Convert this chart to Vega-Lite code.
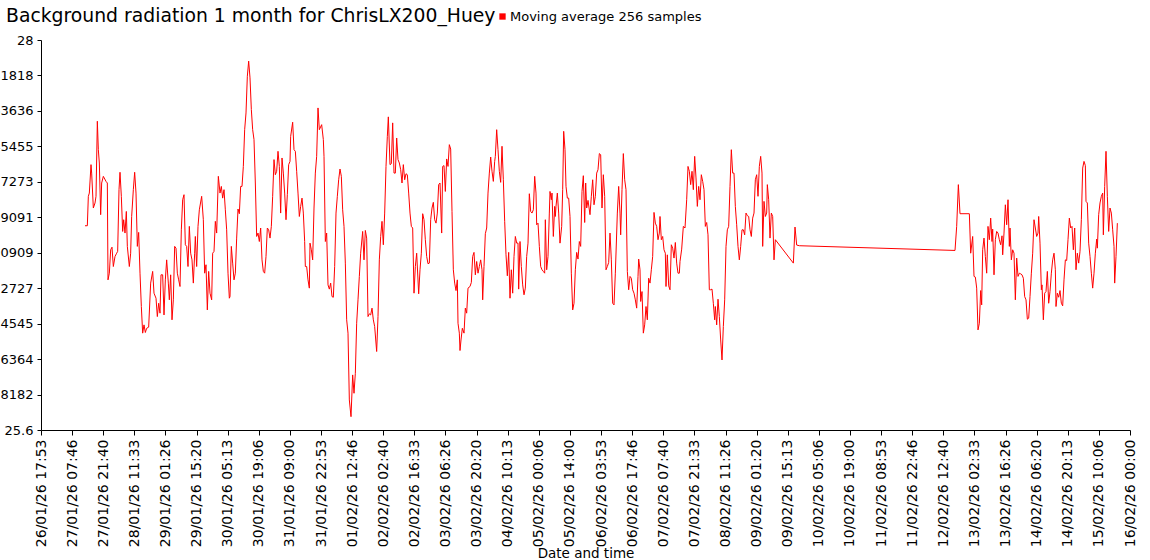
{
"$schema": "https://vega.github.io/schema/vega-lite/v6.json",
"width": 1089, "height": 390,
"autosize": {"type": "none"},
"padding": {"left": 41, "top": 40, "right": 20, "bottom": 130},
"background": "white",
"config": {"view": {"stroke": null}, "font": "DejaVu Sans"},
"title": {"text": "Background radiation 1 month for ChrisLX200_Huey", "anchor": "start", "frame": "group", "font": "DejaVu Sans", "fontSize": 18.8, "fontWeight": "normal", "color": "black", "dx": -35, "offset": -31, "baseline": "alphabetic"},
"data": {"values": [
{"t":1769520708000,"v":26.857},{"t":1769524458000,"v":26.857},{"t":1769526065000,"v":27.038},{"t":1769527672000,"v":27.058},{"t":1769530350000,"v":27.233},{"t":1769531421000,"v":27.181},{"t":1769534100000,"v":26.966},{"t":1769536778000,"v":26.997},{"t":1769538385000,"v":27.038},{"t":1769540528000,"v":27.500},{"t":1769542135000,"v":27.325},{"t":1769543742000,"v":27.243},{"t":1769545885000,"v":26.925},{"t":1769547492000,"v":27.120},{"t":1769550170000,"v":27.161},{"t":1769554455000,"v":27.130},{"t":1769556598000,"v":27.120},{"t":1769557669000,"v":26.524},{"t":1769559812000,"v":26.565},{"t":1769561955000,"v":26.709},{"t":1769564097000,"v":26.725},{"t":1769566240000,"v":26.606},{"t":1769568918000,"v":26.668},{"t":1769571597000,"v":26.688},{"t":1769573204000,"v":26.699},{"t":1769575346000,"v":27.079},{"t":1769576953000,"v":27.186},{"t":1769579096000,"v":27.038},{"t":1769581239000,"v":26.822},{"t":1769582846000,"v":26.894},{"t":1769584988000,"v":26.812},{"t":1769587131000,"v":26.945},{"t":1769588738000,"v":26.730},{"t":1769591952000,"v":26.606},{"t":1769594095000,"v":26.688},{"t":1769595702000,"v":26.914},{"t":1769598380000,"v":27.079},{"t":1769600523000,"v":27.186},{"t":1769602666000,"v":27.058},{"t":1769604808000,"v":26.730},{"t":1769606951000,"v":26.816},{"t":1769609094000,"v":26.565},{"t":1769611236000,"v":26.360},{"t":1769613379000,"v":26.196},{"t":1769615522000,"v":26.247},{"t":1769617664000,"v":26.200},{"t":1769619807000,"v":26.226},{"t":1769623021000,"v":26.233},{"t":1769626235000,"v":26.504},{"t":1769629449000,"v":26.576},{"t":1769631592000,"v":26.442},{"t":1769634806000,"v":26.411},{"t":1769636948000,"v":26.298},{"t":1769639091000,"v":26.380},{"t":1769641234000,"v":26.319},{"t":1769642841000,"v":26.555},{"t":1769645519000,"v":26.555},{"t":1769647662000,"v":26.308},{"t":1769649805000,"v":26.524},{"t":1769651947000,"v":26.647},{"t":1769654626000,"v":26.504},{"t":1769656233000,"v":26.401},{"t":1769658375000,"v":26.555},{"t":1769660518000,"v":26.278},{"t":1769662661000,"v":26.401},{"t":1769664803000,"v":26.730},{"t":1769666946000,"v":26.719},{"t":1769669089000,"v":26.565},{"t":1769671231000,"v":26.524},{"t":1769673374000,"v":26.483},{"t":1769675517000,"v":26.832},{"t":1769677659000,"v":27.017},{"t":1769679802000,"v":27.048},{"t":1769681945000,"v":26.740},{"t":1769684087000,"v":26.730},{"t":1769686230000,"v":26.606},{"t":1769688373000,"v":26.853},{"t":1769690515000,"v":26.688},{"t":1769692658000,"v":26.647},{"t":1769694801000,"v":26.504},{"t":1769696943000,"v":26.688},{"t":1769698015000,"v":26.791},{"t":1769700158000,"v":26.606},{"t":1769702300000,"v":26.853},{"t":1769704443000,"v":26.955},
{"t":1769708191000,"v":27.038},{"t":1769710870000,"v":26.894},{"t":1769713012000,"v":26.565},{"t":1769715155000,"v":26.617},{"t":1769717298000,"v":26.339},{"t":1769719440000,"v":26.576},{"t":1769721583000,"v":26.442},{"t":1769724261000,"v":26.401},{"t":1769725868000,"v":26.688},{"t":1769728011000,"v":26.699},{"t":1769730154000,"v":26.884},{"t":1769732296000,"v":26.812},{"t":1769734975000,"v":27.161},{"t":1769737653000,"v":27.058},{"t":1769739796000,"v":27.099},{"t":1769741939000,"v":27.027},{"t":1769744081000,"v":27.079},{"t":1769746224000,"v":26.955},{"t":1769748367000,"v":26.832},{"t":1769750509000,"v":26.565},{"t":1769752652000,"v":26.411},{"t":1769753723000,"v":26.421},{"t":1769755866000,"v":26.730},{"t":1769758009000,"v":26.627},{"t":1769760151000,"v":26.524},{"t":1769762294000,"v":26.565},{"t":1769764437000,"v":26.781},{"t":1769766579000,"v":26.960},{"t":1769768722000,"v":26.931},{"t":1769770865000,"v":27.099},{"t":1769773007000,"v":27.099},{"t":1769775150000,"v":27.222},{"t":1769777293000,"v":27.448},{"t":1769779435000,"v":27.551},{"t":1769781578000,"v":27.777},{"t":1769783721000,"v":27.870},{"t":1769785863000,"v":27.767},{"t":1769788006000,"v":27.572},{"t":1769790149000,"v":27.448},{"t":1769792291000,"v":27.387},{"t":1769794434000,"v":27.120},{"t":1769796577000,"v":26.791},{"t":1769798719000,"v":26.812},{"t":1769800862000,"v":26.760},{"t":1769803005000,"v":26.843},{"t":1769805147000,"v":26.647},{"t":1769807290000,"v":26.576},{"t":1769809433000,"v":26.565},{"t":1769811575000,"v":26.668},{"t":1769813718000,"v":26.843},{"t":1769815861000,"v":26.832},{"t":1769818003000,"v":26.781},{"t":1769820146000,"v":26.853},{"t":1769822289000,"v":27.038},{"t":1769824432000,"v":27.264},{"t":1769826574000,"v":27.171},{"t":1769828717000,"v":27.192},{"t":1769830860000,"v":27.315},{"t":1769833002000,"v":27.222},{"t":1769835145000,"v":26.935},{"t":1769837288000,"v":27.274},{"t":1769839430000,"v":27.181},{"t":1769841573000,"v":27.058},{"t":1769843716000,"v":26.894},{"t":1769845858000,"v":27.048},{"t":1769848001000,"v":27.233},{"t":1769850144000,"v":27.253},{"t":1769851215000,"v":27.407},{"t":1769854429000,"v":27.494},{"t":1769856572000,"v":27.325},{"t":1769858715000,"v":27.315},{"t":1769860857000,"v":27.192},{"t":1769863000000,"v":27.058},{"t":1769865143000,"v":26.914},{"t":1769867285000,"v":26.976},{"t":1769869428000,"v":27.027},{"t":1769871571000,"v":26.935},{"t":1769873713000,"v":26.760},{"t":1769874785000,"v":26.606},{"t":1769876927000,"v":26.606},{"t":1769879070000,"v":26.524},{"t":1769881213000,"v":26.473},{"t":1769882284000,"v":26.750},{"t":1769884427000,"v":26.709},{"t":1769886569000,"v":26.647},{"t":1769888712000,"v":26.966},{"t":1769890855000,"v":27.181},{"t":1769892998000,"v":27.284},{"t":1769895140000,"v":27.582},{"t":1769897283000,"v":27.448},
{"t":1769901031000,"v":27.479},{"t":1769903710000,"v":27.387},{"t":1769904781000,"v":27.284},{"t":1769906924000,"v":26.760},{"t":1769909066000,"v":26.812},{"t":1769911209000,"v":26.493},{"t":1769913352000,"v":26.467},{"t":1769915494000,"v":26.504},{"t":1769917637000,"v":26.421},{"t":1769919780000,"v":26.417},{"t":1769921922000,"v":26.606},{"t":1769924065000,"v":26.935},{"t":1769926208000,"v":27.038},{"t":1769928351000,"v":27.140},{"t":1769930493000,"v":27.206},{"t":1769932636000,"v":27.161},{"t":1769934779000,"v":26.955},{"t":1769936921000,"v":26.853},{"t":1769939064000,"v":26.627},{"t":1769941207000,"v":26.278},{"t":1769943349000,"v":26.196},{"t":1769945492000,"v":25.785},{"t":1769948170000,"v":25.682},{"t":1769950849000,"v":25.939},{"t":1769952991000,"v":25.826},{"t":1769955134000,"v":25.949},{"t":1769957277000,"v":26.257},{"t":1769959419000,"v":26.401},{"t":1769961562000,"v":26.545},{"t":1769963705000,"v":26.688},{"t":1769966919000,"v":26.822},{"t":1769969061000,"v":26.647},{"t":1769971204000,"v":26.828},{"t":1769973347000,"v":26.781},{"t":1769975489000,"v":26.298},{"t":1769977632000,"v":26.315},{"t":1769979775000,"v":26.308},{"t":1769981918000,"v":26.350},{"t":1769984060000,"v":26.278},{"t":1769986203000,"v":26.237},{"t":1769989417000,"v":26.083},{"t":1769991559000,"v":26.298},{"t":1769993702000,"v":26.647},{"t":1769995845000,"v":26.791},{"t":1769997987000,"v":26.884},{"t":1770000130000,"v":26.740},{"t":1770002273000,"v":26.935},{"t":1770004415000,"v":27.222},{"t":1770006558000,"v":27.407},{"t":1770008165000,"v":27.527},{"t":1770010843000,"v":27.233},{"t":1770012986000,"v":27.239},{"t":1770015129000,"v":27.490},{"t":1770017272000,"v":27.181},{"t":1770019414000,"v":27.181},{"t":1770021557000,"v":27.397},{"t":1770023700000,"v":27.264},{"t":1770025842000,"v":27.243},{"t":1770027985000,"v":27.202},{"t":1770030128000,"v":27.120},{"t":1770032270000,"v":27.233},{"t":1770034413000,"v":27.140},{"t":1770036556000,"v":27.177},{"t":1770038698000,"v":27.171},{"t":1770040841000,"v":27.058},{"t":1770042984000,"v":26.935},{"t":1770045126000,"v":26.853},{"t":1770047269000,"v":26.843},{"t":1770049412000,"v":26.442},{"t":1770051555000,"v":26.606},{"t":1770053697000,"v":26.688},{"t":1770056911000,"v":26.438},{"t":1770059054000,"v":26.586},{"t":1770061197000,"v":26.688},{"t":1770063339000,"v":26.931},{"t":1770065482000,"v":26.894},{"t":1770067625000,"v":26.771},{"t":1770069767000,"v":26.668},{"t":1770071910000,"v":26.623},{"t":1770074053000,"v":26.627},{"t":1770076195000,"v":26.894},{"t":1770078338000,"v":26.966},{"t":1770080481000,"v":27.001},{"t":1770082623000,"v":26.894},{"t":1770084766000,"v":26.873},{"t":1770086909000,"v":26.935},{"t":1770089052000,"v":27.110},{"t":1770091194000,"v":27.120},
{"t":1770093871000,"v":26.812},{"t":1770095478000,"v":27.222},{"t":1770097621000,"v":27.227},{"t":1770099764000,"v":27.068},{"t":1770101906000,"v":27.268},{"t":1770104049000,"v":27.222},{"t":1770106192000,"v":27.356},{"t":1770108334000,"v":27.329},{"t":1770110477000,"v":26.945},{"t":1770112620000,"v":26.586},{"t":1770114762000,"v":26.504},{"t":1770116905000,"v":26.458},{"t":1770119048000,"v":26.524},{"t":1770120119000,"v":26.257},{"t":1770122262000,"v":26.196},{"t":1770123333000,"v":26.089},{"t":1770124940000,"v":26.154},{"t":1770127083000,"v":26.226},{"t":1770129761000,"v":26.196},{"t":1770131904000,"v":26.350},{"t":1770134047000,"v":26.319},{"t":1770136189000,"v":26.473},{"t":1770139403000,"v":26.483},{"t":1770141546000,"v":26.508},{"t":1770143689000,"v":26.668},{"t":1770145831000,"v":26.693},{"t":1770147974000,"v":26.555},{"t":1770150117000,"v":26.637},{"t":1770152259000,"v":26.565},{"t":1770154402000,"v":26.606},{"t":1770156545000,"v":26.647},{"t":1770158687000,"v":26.586},{"t":1770159759000,"v":26.401},{"t":1770161901000,"v":26.606},{"t":1770164044000,"v":26.808},{"t":1770166187000,"v":26.843},{"t":1770168329000,"v":27.058},{"t":1770170472000,"v":27.181},{"t":1770172615000,"v":27.280},{"t":1770174758000,"v":27.192},{"t":1770176900000,"v":27.130},{"t":1770179043000,"v":27.253},{"t":1770180114000,"v":27.284},{"t":1770182257000,"v":27.448},{"t":1770184399000,"v":27.325},{"t":1770186542000,"v":27.192},{"t":1770188685000,"v":27.124},{"t":1770190827000,"v":27.346},{"t":1770192970000,"v":27.140},{"t":1770195113000,"v":26.884},{"t":1770197255000,"v":26.678},{"t":1770199398000,"v":26.549},{"t":1770201541000,"v":26.693},{"t":1770203683000,"v":26.411},{"t":1770205826000,"v":26.586},{"t":1770207969000,"v":26.442},{"t":1770210112000,"v":26.668},{"t":1770212254000,"v":26.791},{"t":1770214397000,"v":26.750},{"t":1770216540000,"v":26.750},{"t":1770217611000,"v":26.467},{"t":1770219754000,"v":26.760},{"t":1770221896000,"v":26.606},{"t":1770224039000,"v":26.493},{"t":1770226182000,"v":26.432},{"t":1770228325000,"v":26.473},{"t":1770230467000,"v":26.668},{"t":1770232610000,"v":26.750},{"t":1770234753000,"v":27.054},{"t":1770236895000,"v":26.945},{"t":1770239038000,"v":26.935},{"t":1770241181000,"v":26.955},{"t":1770243323000,"v":27.161},{"t":1770245466000,"v":27.058},{"t":1770246537000,"v":26.863},{"t":1770248680000,"v":26.873},{"t":1770250823000,"v":26.730},{"t":1770252965000,"v":26.606},{"t":1770255108000,"v":26.586},{"t":1770257251000,"v":26.576},{"t":1770259393000,"v":26.565},{"t":1770260465000,"v":26.894},{"t":1770262607000,"v":26.586},{"t":1770264750000,"v":26.668},{"t":1770266893000,"v":26.935},{"t":1770267964000,"v":27.068},{"t":1770270107000,"v":27.017},{"t":1770271178000,"v":27.058},{"t":1770273321000,"v":26.791},{"t":1770275463000,"v":26.976},{"t":1770276535000,"v":26.914},{"t":1770277606000,"v":26.976},{"t":1770279749000,"v":27.058},{"t":1770281892000,"v":26.935},{"t":1770284034000,"v":26.750},
{"t":1770286711000,"v":26.853},{"t":1770288318000,"v":27.079},{"t":1770289925000,"v":27.438},{"t":1770292068000,"v":27.325},{"t":1770293675000,"v":27.099},{"t":1770295818000,"v":27.027},{"t":1770297960000,"v":27.027},{"t":1770300103000,"v":26.914},{"t":1770302246000,"v":26.565},{"t":1770304388000,"v":26.339},{"t":1770306531000,"v":26.380},{"t":1770308674000,"v":26.586},{"t":1770310816000,"v":26.693},{"t":1770312959000,"v":26.652},{"t":1770315102000,"v":26.760},{"t":1770317245000,"v":26.730},{"t":1770319387000,"v":27.068},{"t":1770321530000,"v":27.165},{"t":1770323673000,"v":26.877},{"t":1770325280000,"v":27.120},{"t":1770326887000,"v":26.966},{"t":1770329029000,"v":27.013},{"t":1770332243000,"v":26.925},{"t":1770334386000,"v":27.038},{"t":1770336529000,"v":27.140},{"t":1770338671000,"v":26.986},{"t":1770340814000,"v":27.038},{"t":1770342957000,"v":27.181},{"t":1770345099000,"v":27.202},{"t":1770347242000,"v":27.301},{"t":1770349385000,"v":27.294},{"t":1770351527000,"v":26.966},{"t":1770353670000,"v":27.171},{"t":1770355813000,"v":27.038},{"t":1770357955000,"v":26.586},{"t":1770360098000,"v":26.606},{"t":1770362241000,"v":26.631},{"t":1770364383000,"v":26.812},{"t":1770366526000,"v":26.647},{"t":1770368669000,"v":26.380},{"t":1770370811000,"v":26.370},{"t":1770372954000,"v":26.565},{"t":1770376168000,"v":26.935},{"t":1770378311000,"v":27.099},{"t":1770380454000,"v":26.935},{"t":1770381525000,"v":26.801},{"t":1770383667000,"v":27.079},{"t":1770385810000,"v":27.301},{"t":1770387953000,"v":27.140},{"t":1770390095000,"v":27.079},{"t":1770392238000,"v":26.576},{"t":1770394381000,"v":26.463},{"t":1770396523000,"v":26.545},{"t":1770398666000,"v":26.534},{"t":1770400809000,"v":26.463},{"t":1770402952000,"v":26.442},{"t":1770405094000,"v":26.401},{"t":1770407237000,"v":26.350},{"t":1770409380000,"v":26.545},{"t":1770410451000,"v":26.652},{"t":1770412594000,"v":26.586},{"t":1770413665000,"v":26.391},{"t":1770415808000,"v":26.452},{"t":1770417950000,"v":26.196},{"t":1770420093000,"v":26.247},{"t":1770422236000,"v":26.360},{"t":1770424378000,"v":26.278},{"t":1770426521000,"v":26.534},{"t":1770428664000,"v":26.504},{"t":1770430806000,"v":26.586},{"t":1770432949000,"v":26.668},{"t":1770435092000,"v":26.939},{"t":1770437235000,"v":26.873},{"t":1770439377000,"v":26.853},{"t":1770441520000,"v":26.771},{"t":1770443663000,"v":26.812},{"t":1770444734000,"v":26.914},{"t":1770446877000,"v":26.771},{"t":1770449019000,"v":26.791},{"t":1770451162000,"v":26.709},{"t":1770453305000,"v":26.688},{"t":1770454376000,"v":26.483},{"t":1770456519000,"v":26.678},{"t":1770458661000,"v":26.487},{"t":1770460804000,"v":26.463},{"t":1770462947000,"v":26.740},{"t":1770465089000,"v":26.719},{"t":1770467232000,"v":26.658},{"t":1770469375000,"v":26.754},{"t":1770471518000,"v":26.627},{"t":1770473660000,"v":26.565},{"t":1770475803000,"v":26.565},{"t":1770476874000,"v":26.637},
{"t":1770479551000,"v":26.713},{"t":1770482230000,"v":26.853},{"t":1770484908000,"v":26.843},{"t":1770487586000,"v":27.017},{"t":1770489729000,"v":27.222},{"t":1770491872000,"v":27.192},{"t":1770494014000,"v":27.110},{"t":1770496157000,"v":27.192},{"t":1770498300000,"v":27.079},{"t":1770500442000,"v":27.284},{"t":1770502585000,"v":27.151},{"t":1770504728000,"v":26.976},{"t":1770506871000,"v":27.099},{"t":1770509013000,"v":27.017},{"t":1770511156000,"v":27.171},{"t":1770513299000,"v":27.130},{"t":1770515441000,"v":27.079},{"t":1770517584000,"v":26.853},{"t":1770519727000,"v":26.877},{"t":1770521869000,"v":26.801},{"t":1770524012000,"v":26.463},{"t":1770526155000,"v":26.463},{"t":1770528297000,"v":26.467},{"t":1770530440000,"v":26.380},{"t":1770532583000,"v":26.278},{"t":1770533654000,"v":26.360},{"t":1770535797000,"v":26.247},{"t":1770537939000,"v":26.405},{"t":1770540082000,"v":26.298},{"t":1770542225000,"v":26.154},{"t":1770544367000,"v":26.031},{"t":1770546510000,"v":26.237},{"t":1770548653000,"v":26.401},{"t":1770550795000,"v":26.730},{"t":1770552938000,"v":26.832},{"t":1770555081000,"v":26.853},{"t":1770557223000,"v":27.099},{"t":1770559366000,"v":27.325},{"t":1770561509000,"v":27.181},{"t":1770563651000,"v":27.181},{"t":1770565794000,"v":26.976},{"t":1770567937000,"v":26.863},{"t":1770570079000,"v":26.730},{"t":1770572222000,"v":26.647},{"t":1770574365000,"v":26.730},{"t":1770576507000,"v":26.832},{"t":1770578650000,"v":26.832},{"t":1770580793000,"v":26.801},{"t":1770582935000,"v":26.935},{"t":1770585078000,"v":26.919},{"t":1770587221000,"v":26.914},{"t":1770589363000,"v":26.832},{"t":1770591506000,"v":26.791},{"t":1770593649000,"v":26.904},{"t":1770595792000,"v":26.935},{"t":1770597934000,"v":27.140},{"t":1770600077000,"v":27.171},{"t":1770602220000,"v":27.038},{"t":1770604362000,"v":27.222},{"t":1770606505000,"v":27.284},{"t":1770608648000,"v":27.181},{"t":1770609719000,"v":26.730},{"t":1770611862000,"v":27.007},{"t":1770614005000,"v":26.914},{"t":1770616147000,"v":26.935},{"t":1770617218000,"v":27.110},{"t":1770619361000,"v":27.017},{"t":1770621504000,"v":26.781},{"t":1770623646000,"v":26.935},{"t":1770625789000,"v":26.914},{"t":1770627932000,"v":26.647},{"t":1770630075000,"v":26.771},{"t":1770659001000,"v":26.627},{"t":1770661679000,"v":26.849},{"t":1770664358000,"v":26.738},{"t":1770668643000,"v":26.734},
{"t":1770918798000,"v":26.705},{"t":1770921476000,"v":26.853},{"t":1770924155000,"v":27.110},{"t":1770926833000,"v":26.931},{"t":1770941832000,"v":26.931},{"t":1770943975000,"v":26.688},{"t":1770947189000,"v":26.791},{"t":1770949331000,"v":26.545},{"t":1770951474000,"v":26.541},{"t":1770953617000,"v":26.473},{"t":1770955759000,"v":26.216},{"t":1770957902000,"v":26.257},{"t":1770960045000,"v":26.458},{"t":1770961652000,"v":26.370},{"t":1770963259000,"v":26.709},{"t":1770965401000,"v":26.781},{"t":1770967544000,"v":26.668},{"t":1770969687000,"v":26.565},{"t":1770971829000,"v":26.853},{"t":1770973972000,"v":26.771},{"t":1770976115000,"v":26.904},{"t":1770978258000,"v":26.760},{"t":1770979329000,"v":26.836},{"t":1770981471000,"v":26.555},{"t":1770983614000,"v":26.771},{"t":1770985757000,"v":26.822},{"t":1770987899000,"v":26.812},{"t":1770990042000,"v":26.771},{"t":1770992185000,"v":26.740},{"t":1770994327000,"v":26.795},{"t":1770995399000,"v":26.678},{"t":1770997542000,"v":26.812},{"t":1770999684000,"v":26.986},{"t":1771001827000,"v":26.863},{"t":1771003970000,"v":27.017},{"t":1771006112000,"v":26.730},{"t":1771007183000,"v":26.843},{"t":1771009326000,"v":26.647},{"t":1771011469000,"v":26.709},{"t":1771013612000,"v":26.688},{"t":1771015754000,"v":26.401},{"t":1771017897000,"v":26.658},{"t":1771020040000,"v":26.545},{"t":1771022182000,"v":26.565},{"t":1771024325000,"v":26.561},{"t":1771026468000,"v":26.555},{"t":1771028610000,"v":26.534},{"t":1771030753000,"v":26.421},{"t":1771032896000,"v":26.401},{"t":1771035038000,"v":26.282},{"t":1771037181000,"v":26.288},{"t":1771039324000,"v":26.421},{"t":1771041466000,"v":26.565},{"t":1771043609000,"v":26.688},{"t":1771045752000,"v":26.894},{"t":1771047895000,"v":26.843},{"t":1771050037000,"v":26.791},{"t":1771052180000,"v":26.812},{"t":1771053251000,"v":26.914},{"t":1771055394000,"v":26.750},{"t":1771057537000,"v":26.463},{"t":1771058608000,"v":26.493},{"t":1771060751000,"v":26.278},{"t":1771062893000,"v":26.442},{"t":1771065036000,"v":26.452},{"t":1771067179000,"v":26.576},{"t":1771069321000,"v":26.380},{"t":1771071464000,"v":26.452},
{"t":1771073606000,"v":26.565},{"t":1771075748000,"v":26.647},{"t":1771077891000,"v":26.688},{"t":1771080034000,"v":26.586},{"t":1771081105000,"v":26.360},{"t":1771083248000,"v":26.442},{"t":1771085390000,"v":26.417},{"t":1771087533000,"v":26.458},{"t":1771089676000,"v":26.380},{"t":1771091818000,"v":26.364},{"t":1771093961000,"v":26.524},{"t":1771096104000,"v":26.647},{"t":1771098246000,"v":26.643},{"t":1771100389000,"v":26.771},{"t":1771102532000,"v":26.904},{"t":1771104675000,"v":26.843},{"t":1771106817000,"v":26.853},{"t":1771108960000,"v":26.709},{"t":1771111103000,"v":26.843},{"t":1771113245000,"v":26.586},{"t":1771115388000,"v":26.688},{"t":1771117531000,"v":26.627},{"t":1771119673000,"v":26.699},{"t":1771121816000,"v":26.894},{"t":1771123959000,"v":27.212},{"t":1771126101000,"v":27.253},{"t":1771128244000,"v":27.227},{"t":1771129315000,"v":27.007},{"t":1771131458000,"v":26.997},{"t":1771133601000,"v":26.750},{"t":1771135743000,"v":26.668},{"t":1771137886000,"v":26.565},{"t":1771140029000,"v":26.473},{"t":1771142171000,"v":26.565},{"t":1771144314000,"v":26.688},{"t":1771146457000,"v":26.775},{"t":1771147528000,"v":26.719},{"t":1771149671000,"v":26.925},{"t":1771151813000,"v":26.997},{"t":1771153956000,"v":27.038},{"t":1771156099000,"v":27.058},{"t":1771157170000,"v":26.801},{"t":1771159313000,"v":27.099},{"t":1771161456000,"v":27.315},{"t":1771163598000,"v":27.038},{"t":1771165741000,"v":26.822},{"t":1771167884000,"v":26.966},{"t":1771170026000,"v":26.935},{"t":1771172169000,"v":26.832},{"t":1771174312000,"v":26.730},{"t":1771175383000,"v":26.504},{"t":1771177525000,"v":26.668},{"t":1771179668000,"v":26.873}
]},
"mark": {"type": "line", "strokeWidth": 1, "interpolate": "linear"},
"encoding": {
"x": {"field": "t", "type": "temporal",
 "scale": {"type": "utc", "domain": [1769450000000, 1771200000000], "nice": false},
 "axis": {"values": [1769450000000,1769500000000,1769550000000,1769600000000,1769650000000,1769700000000,1769750000000,1769800000000,1769850000000,1769900000000,1769950000000,1770000000000,1770050000000,1770100000000,1770150000000,1770200000000,1770250000000,1770300000000,1770350000000,1770400000000,1770450000000,1770500000000,1770550000000,1770600000000,1770650000000,1770700000000,1770750000000,1770800000000,1770850000000,1770900000000,1770950000000,1771000000000,1771050000000,1771100000000,1771150000000,1771200000000],
  "labelExpr": "utcFormat(datum.value, '%d/%m/%y %H:%M')",
  "labelAngle": 270, "labelFontSize": 14, "labelColor": "black", "labelPadding": 4, "labelOverlap": false, "labelFlush": false, "labelFont": "DejaVu Sans",
  "tickSize": 5, "tickColor": "black", "domainColor": "black", "grid": false,
  "title": "Date and time", "titleFontSize": 13.5, "titleFontWeight": "normal", "titleColor": "black", "titleFont": "DejaVu Sans", "titlePadding": 0}},
"y": {"field": "v", "type": "quantitative",
 "scale": {"domain": [25.6, 28], "zero": false, "nice": false},
 "axis": {"values": [25.6, 25.8181818, 26.0363636, 26.25454545, 26.4727273, 26.6909091, 26.9090909, 27.1272727, 27.34545455, 27.5636364, 27.7818182, 28],
  "format": ".6~f", "title": null, "grid": false, "labelFontSize": 13, "labelColor": "black", "labelPadding": 4, "labelOverlap": false, "labelFont": "DejaVu Sans",
  "tickSize": 4, "tickColor": "black", "domainColor": "black"}},
"color": {"datum": "Moving average 256 samples", "scale": {"range": ["#ff0000"]},
 "legend": {"orient": "none", "legendX": 455, "legendY": -30, "title": null, "symbolType": "square", "symbolSize": 40, "symbolFillColor": "#ff0000", "symbolStrokeWidth": 0, "labelFont": "DejaVu Sans", "labelFontSize": 13, "labelColor": "black", "labelOffset": 1, "labelLimit": 400, "padding": 0}}
}
}
